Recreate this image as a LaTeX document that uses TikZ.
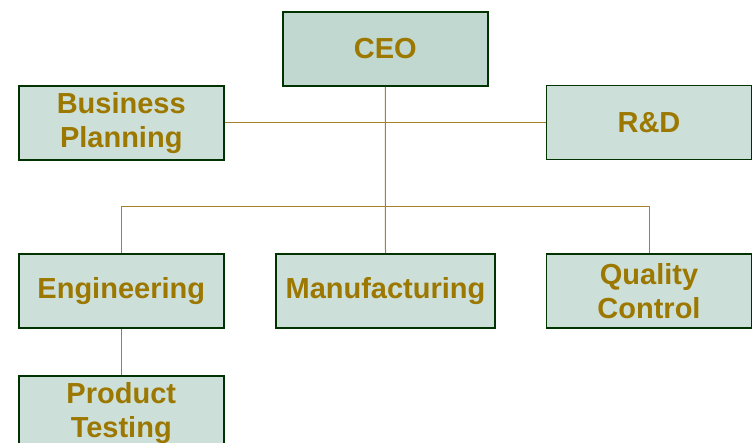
\documentclass[tikz,border=0pt]{standalone}
\usepackage{fontspec}
\setmainfont{Liberation Sans}
\definecolor{boxfill}{HTML}{CCDFD9}
\definecolor{ceofill}{HTML}{C0D8D0}
\definecolor{boxedge}{HTML}{003300}
\definecolor{txtcol}{HTML}{9C7800}
\definecolor{wirecol}{HTML}{A6802A}
\begin{document}
\begin{tikzpicture}[x=1pt,y=-1pt,
  orgbox/.style={draw=boxedge, line width=1.9pt, fill=boxfill, minimum width=205pt, minimum height=74pt, inner sep=0pt, align=center, text=txtcol, font=\fontsize{29}{34}\selectfont\bfseries},
  wire/.style={draw=wirecol, line width=1pt}]
\clip (0,0) rectangle (755,443);
\fill[white] (0,0) rectangle (755,443);
\node[orgbox, fill=ceofill] (ceo) at (385.25,49) {CEO};
\node[orgbox] (bp) at (121.25,122.75) {Business\\Planning};
\node[orgbox] (rd) at (649,122.5) {R\&D};
\node[orgbox] (eng) at (121.25,291) {Engineering};
\node[orgbox, minimum width=219pt] (man) at (385.5,291) {Manufacturing};
\node[orgbox] (qc) at (649,291) {Quality\\Control};
\node[orgbox] (pt) at (121.25,413) {Product\\Testing};
\coordinate (j) at (385,207);
\draw[wire] (ceo.south) -- (man.north);
\draw[wire] (bp.east) -- (bp.east -| rd.west);
\draw[wire] (eng.north) -- (eng.north |- j) -- (qc.north |- j) -- (qc.north);
\draw[wire] (eng.south) -- (pt.north);
\end{tikzpicture}
\end{document}
